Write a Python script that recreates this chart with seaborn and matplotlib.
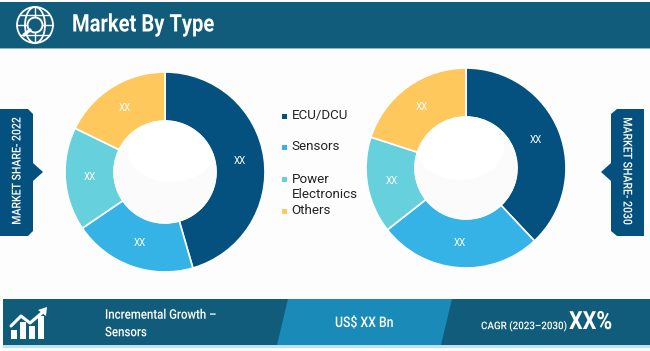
import math
import matplotlib
matplotlib.use("Agg")
import matplotlib.pyplot as plt
from matplotlib.patches import Polygon, Rectangle, Circle, Ellipse
from matplotlib.patheffects import AbstractPathEffect
from matplotlib.transforms import Affine2D
import seaborn as sns
import pandas as pd

categories = ["ECU/DCU", "Sensors", "Power\nElectronics", "Others"]
share_2022 = [45.5, 20.0, 16.7, 17.8]
share_2030 = [38.0, 26.4, 15.6, 20.0]
slice_labels = ["XX", "XX", "XX", "XX"]
colors = ["#04517F", "#35B2E6", "#66D1DC", "#FFC85C"]
frame = pd.DataFrame({"type": categories, "2022": share_2022, "2030": share_2030})

sns.set_theme(style="white")
plt.rcParams["font.family"] = ["Roboto", "DejaVu Sans"]

W, H = 650, 351
fig = plt.figure(figsize=(6.5, 3.51), dpi=100, facecolor="#FDFDFD")
bg = fig.add_axes([0, 0, 1, 1])
bg.set_xlim(0, W)
bg.set_ylim(H, 0)
bg.axis("off")

dark = "#125C7B"
mid = "#1A8AB8"
tab = "#04517F"


# no condensed font here, so squeeze the drawn glyphs around the anchor
class Squeeze(AbstractPathEffect):
    def __init__(self, x, y, sx=1.0, sy=1.0):
        super().__init__()
        self.px, self.py = bg.transData.transform((x, y))
        self.sx, self.sy = sx, sy

    def draw_path(self, renderer, gc, tpath, affine, rgbFace=None):
        t = affine + Affine2D().translate(-self.px, -self.py).scale(self.sx, self.sy).translate(self.px, self.py)
        renderer.draw_path(gc, tpath, t, rgbFace)


def label(x, y, s, size, sx=1.0, sy=1.0, **kw):
    t = bg.text(x, y, s, color="white", fontsize=size, va="center", **kw)
    t.set_path_effects([Squeeze(x, y, sx, sy)])
    return t


# header
bg.add_patch(Rectangle((0, 2), 650, 46, color=dark, lw=0))
bg.add_patch(Rectangle((0, 48), 650, 1.2, color="#8FB4C4", lw=0))
label(72, 25, "Market By Type", 17.5, sx=0.83, fontweight="bold", ha="left")

# globe icon
ic = dict(fill=False, ec="white", lw=1.3)
bg.add_patch(Circle((35, 25), 18, **ic))
bg.plot([35, 35], [7, 43], color="white", lw=1.0)
bg.plot([17, 53], [25, 25], color="white", lw=1.0)
bg.plot([20, 50], [15, 15], color="white", lw=1.0)
bg.plot([20, 50], [35, 35], color="white", lw=1.0)
bg.add_patch(Ellipse((35, 25), 20, 36, **ic))
bg.add_patch(Circle((35, 25), 7.5, fc=dark, ec="white", lw=1.4, zorder=3))
bg.plot([30, 24], [30, 35], color="white", lw=2.4, zorder=3)

# side tabs
bg.add_patch(Polygon([(0, 109), (28, 109), (33, 114), (33, 163), (43, 172), (33, 181),
                      (33, 231), (28, 236), (0, 236)], color=tab, lw=0))
label(17, 171, "MARKET SHARE- 2022", 8.8, sy=0.86, rotation=90, ha="center", fontweight="medium")
bg.add_patch(Polygon([(644, 109), (617, 109), (611, 114), (611, 163), (601, 172), (611, 181),
                      (611, 231), (617, 236), (644, 236)], color=tab, lw=0))
label(627, 171, "MARKET SHARE- 2030", 8.8, sy=0.86, rotation=270, ha="center", fontweight="medium")

# legend
legend_y = [116, 147, 179, 211]
for y, c, name in zip(legend_y, colors, frame["type"]):
    bg.add_patch(Rectangle((282, y - 2.5), 5, 5, color=c, lw=0))
    tx_y = y if "\n" not in name else y + 8
    bg.text(291.5, tx_y, name, fontsize=9.6, color="#222222", va="center", ha="left", linespacing=1.2)

# footer band
bg.add_patch(Rectangle((3, 299), 647, 46, color=dark, lw=0))
bg.add_patch(Polygon([(288, 299), (452, 299), (441, 345), (277, 345)], color=mid, lw=0))
bg.add_patch(Rectangle((3, 345), 647, 3, color="#BFE3EE", lw=0))
label(105, 324, "Incremental Growth \u2013\nSensors", 9.6, sx=0.86, fontweight="medium",
      ha="left", linespacing=1.45)
label(335, 323, "US$ XX Bn", 10.5, sx=0.84, fontweight="medium", ha="left")
label(481, 326, "CAGR (2023\u20132030)", 7.6, sx=0.93, fontweight="medium", ha="left")
label(569, 322, "XX%", 18, sx=0.86, fontweight="bold", ha="left")

# growth icon
for x, top in zip([11, 20, 29, 38], [330, 322, 326, 316]):
    bg.add_patch(Rectangle((x, top), 6, 339 - top, color="white", lw=0))
bg.plot([11, 21, 30, 43], [326, 316, 323, 312], color="white", lw=2.2)
bg.add_patch(Polygon([(38, 310), (47, 307), (46, 316)], color="white", lw=0))


def donut(values, cx, cy, r, hole, glow):
    ax = fig.add_axes([(cx - r) / W, 1 - (cy + r) / H, 2 * r / W, 2 * r / H])
    wedges, _ = ax.pie(values, colors=colors, startangle=90, counterclock=False, radius=1,
                       wedgeprops=dict(width=1 - hole / r, edgecolor="white", linewidth=1.2))
    ax.set_xlim(-1, 1)
    ax.set_ylim(-1, 1)
    ax.patch.set_alpha(0)
    for w, lab in zip(wedges, slice_labels):
        ang = math.radians((w.theta1 + w.theta2) / 2)
        rr = (1 + hole / r) / 2
        ax.text(rr * math.cos(ang), rr * math.sin(ang), lab, color="white", fontsize=7.0,
                ha="center", va="center")
    disc = Circle((0, 0), hole / r, fc="#FBFBFB", ec="white", lw=0.8)
    ax.add_patch(disc)
    shine = Ellipse((glow[0] / r, glow[1] / r), 88 / r, 64 / r, fc="white", lw=0)
    ax.add_patch(shine)
    shine.set_clip_path(disc)


donut(frame["2022"], 165, 172, 100, 51, (6, 22))
donut(frame["2030"], 466, 168, 100, 51, (-6, 20))

fig.savefig("out.png", dpi=100, facecolor=fig.get_facecolor())
